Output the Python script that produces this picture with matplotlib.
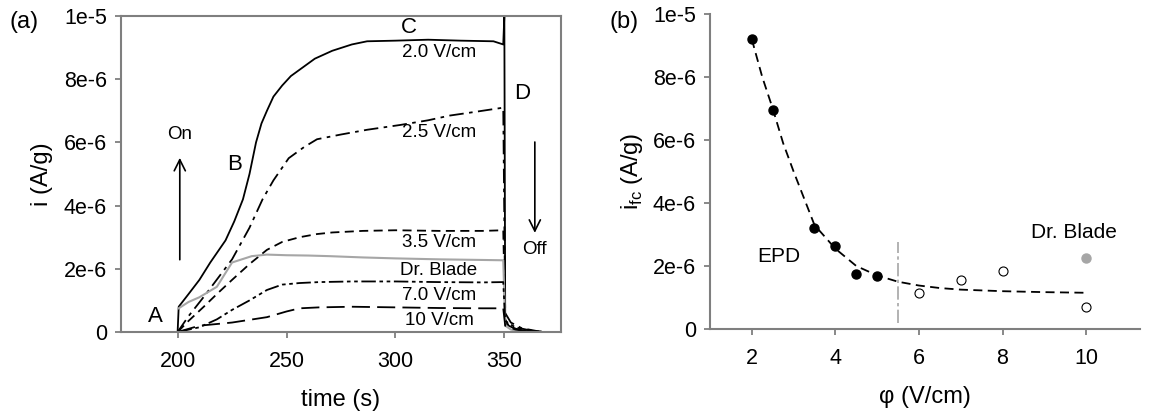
import matplotlib.pyplot as plt

plt.rcParams['font.family'] = ['Liberation Sans', 'DejaVu Sans']

# ---- panel (a): current transients (values in 1e-6 A/g) ----
t_base = [180, 200]
i_base = [0, 0]

t_20 = [200, 200.5, 205, 210, 215, 222, 226, 230, 233, 236, 238.5, 241, 244, 248, 252,
        256, 263, 271, 280, 287, 300, 315, 330, 345, 349.5, 350, 350.4, 352, 355, 360, 365]
i_20 = [0, 0.8, 1.2, 1.65, 2.2, 2.9, 3.5, 4.2, 5.0, 6.0, 6.6, 7.0, 7.45, 7.8, 8.1,
        8.3, 8.65, 8.9, 9.1, 9.2, 9.22, 9.25, 9.22, 9.2, 9.1, 10.0, 0.4, 0.2, 0.1, 0.03, 0]

t_25 = [200, 205, 213, 225, 233, 239, 244, 251, 258, 264, 275, 287, 302, 315, 325,
        335, 349.5, 350.4, 353, 358, 365, 370]
i_25 = [0, 0.5, 1.2, 2.3, 3.3, 4.2, 4.8, 5.5, 5.85, 6.1, 6.25, 6.4, 6.55, 6.7, 6.85,
        6.95, 7.1, 0.6, 0.3, 0.12, 0.03, 0]

t_35 = [200, 205, 212, 218, 225, 233, 241, 248, 256, 264, 271, 285, 300, 320, 340,
        349.5, 350.4, 353, 358, 364]
i_35 = [0, 0.35, 0.8, 1.2, 1.65, 2.15, 2.6, 2.85, 3.0, 3.1, 3.15, 3.2, 3.22, 3.2, 3.2,
        3.22, 0.3, 0.15, 0.05, 0]

t_db = [200.5, 205, 210, 218, 225, 234, 241, 250, 260, 270, 285, 300, 320, 340,
        349.5, 350.4, 353, 358]
i_db = [0.75, 0.95, 1.1, 1.43, 2.2, 2.4, 2.45, 2.43, 2.42, 2.4, 2.36, 2.33, 2.3, 2.28,
        2.27, 0.2, 0.08, 0]

t_70 = [200, 210, 218, 225, 233, 241, 248, 256, 265, 280, 300, 320, 340, 349.5,
        350.4, 355, 362, 368]
i_70 = [0, 0.15, 0.4, 0.7, 1.0, 1.33, 1.5, 1.55, 1.58, 1.6, 1.6, 1.58, 1.57, 1.58,
        0.35, 0.15, 0.05, 0]

t_10 = [200, 210, 225, 241, 250, 256, 265, 280, 300, 320, 340, 349.5, 350.4, 355, 362]
i_10 = [0, 0.2, 0.3, 0.47, 0.65, 0.75, 0.78, 0.8, 0.78, 0.76, 0.75, 0.75, 0.2, 0.08, 0]

# ---- panel (b): i_fc vs field (values in 1e-6 A/g) ----
phi_epd = [2, 2.5, 3.5, 4, 4.5, 5]
ifc_epd = [9.2, 6.95, 3.2, 2.65, 1.75, 1.68]
phi_open = [6, 7, 8, 10]
ifc_open = [1.15, 1.55, 1.85, 0.7]
phi_blade = [10]
ifc_blade = [2.25]
phi_fit = [2, 2.25, 2.5, 2.75, 3, 3.25, 3.5, 4, 4.5, 5, 5.5, 6, 6.5, 7, 8, 9, 10]
ifc_fit = [9.2, 8.0, 7.0, 5.9, 5.0, 4.15, 3.3, 2.55, 2.0, 1.7, 1.5, 1.38, 1.3, 1.25,
           1.2, 1.17, 1.15]

ytick_vals = [0, 2, 4, 6, 8, 10]
ytick_text = ['0', '2e-6', '4e-6', '6e-6', '8e-6', '1e-5']

sc = 1e-6
spine_c = '#7f7f7f'

fig = plt.figure(figsize=(11.5, 4.19), dpi=100)
ax1 = fig.add_axes([0.1052, 0.2076, 0.3826, 0.7542])
ax2 = fig.add_axes([0.6174, 0.2148, 0.3743, 0.7518])

lw = 1.3
ax1.plot(t_base, [v * sc for v in i_base], color='black', lw=lw)
ax1.plot(t_20, [v * sc for v in i_20], color='black', lw=lw)
ax1.plot(t_25, [v * sc for v in i_25], color='black', lw=lw, ls=(0, (8, 3, 2, 3)))
ax1.plot(t_35, [v * sc for v in i_35], color='black', lw=lw, ls=(0, (5, 3)))
ax1.plot(t_db, [v * sc for v in i_db], color='#a6a6a6', lw=1.5)
ax1.plot(t_70, [v * sc for v in i_70], color='black', lw=lw, ls=(0, (8, 2, 2, 2, 2, 2)))
ax1.plot(t_10, [v * sc for v in i_10], color='black', lw=lw, ls=(0, (10, 4)))

ax1.set_xlim(174, 376)
ax1.set_ylim(0, 1e-5)
ax1.set_xticks([200, 250, 300, 350])
ax1.set_yticks([v * sc for v in ytick_vals])
ax1.set_yticklabels(ytick_text)
ax1.set_xlabel('time (s)', fontsize=17, labelpad=12)
ax1.set_ylabel('i (A/g)', fontsize=17, labelpad=8)

fs = 13.5
ax1.text(320, 8.83e-6, '2.0 V/cm', ha='center', va='center', fontsize=fs)
ax1.text(320, 6.3e-6, '2.5 V/cm', ha='center', va='center', fontsize=fs)
ax1.text(320, 2.82e-6, '3.5 V/cm', ha='center', va='center', fontsize=fs)
ax1.text(320, 1.96e-6, 'Dr. Blade', ha='center', va='center', fontsize=fs)
ax1.text(320, 1.14e-6, '7.0 V/cm', ha='center', va='center', fontsize=fs)
ax1.text(320, 0.38e-6, '10 V/cm', ha='center', va='center', fontsize=fs)
ax1.text(306, 9.65e-6, 'C', ha='center', va='center', fontsize=16)
ax1.text(358, 7.55e-6, 'D', ha='center', va='center', fontsize=16)
ax1.text(226, 5.3e-6, 'B', ha='center', va='center', fontsize=16)
ax1.text(190, 0.5e-6, 'A', ha='center', va='center', fontsize=16)
ax1.text(201, 6.25e-6, 'On', ha='center', va='center', fontsize=fs)
ax1.annotate('', xy=(201, 5.6e-6), xytext=(201, 2.2e-6),
             arrowprops=dict(arrowstyle='->', color='black', lw=1.2, mutation_scale=20))
ax1.text(364, 2.6e-6, 'Off', ha='center', va='center', fontsize=fs)
ax1.annotate('', xy=(364, 3.05e-6), xytext=(364, 6.1e-6),
             arrowprops=dict(arrowstyle='->', color='black', lw=1.2, mutation_scale=20))

ax2.plot(phi_fit, [v * sc for v in ifc_fit], color='black', lw=1.3, ls=(0, (5, 3)))
ax2.plot(phi_epd, [v * sc for v in ifc_epd], 'o', color='black', ms=6.5)
ax2.plot(phi_open, [v * sc for v in ifc_open], 'o', mfc='white', mec='black',
         mew=0.8, ms=6.5)
ax2.plot(phi_blade, [v * sc for v in ifc_blade], 'o', color='#a6a6a6', ms=6.5)
ax2.plot([5.5, 5.5], [0.19e-6, 2.76e-6], color='#a6a6a6', lw=1.2,
         ls=(0, (8, 2, 2, 2)))
ax2.text(2.65, 2.3e-6, 'EPD', ha='center', va='center', fontsize=15)
ax2.text(9.7, 3.05e-6, 'Dr. Blade', ha='center', va='center', fontsize=15)

ax2.set_xlim(1, 11.3)
ax2.set_ylim(0, 1e-5)
ax2.set_xticks([2, 4, 6, 8, 10])
ax2.set_yticks([v * sc for v in ytick_vals])
ax2.set_yticklabels(ytick_text)
ax2.set_xlabel('φ (V/cm)', fontsize=17, labelpad=12)
ax2.set_ylabel('i$_{\\mathregular{fc}}$ (A/g)', fontsize=17, labelpad=6)
ax2.spines['top'].set_visible(False)
ax2.spines['right'].set_visible(False)

for ax in (ax1, ax2):
    for s in ax.spines.values():
        s.set_color(spine_c)
        s.set_linewidth(1.5)
    ax.tick_params(direction='out', length=4, width=1.3, color=spine_c,
                   labelsize=15.5, pad=6)
    ax.tick_params(axis='x', pad=10)

fig.text(24 / 1150, 1 - 22 / 419, '(a)', fontsize=17, ha='center', va='center')
fig.text(624 / 1150, 1 - 22 / 419, '(b)', fontsize=17, ha='center', va='center')

fig.savefig('out.png', dpi=100)
